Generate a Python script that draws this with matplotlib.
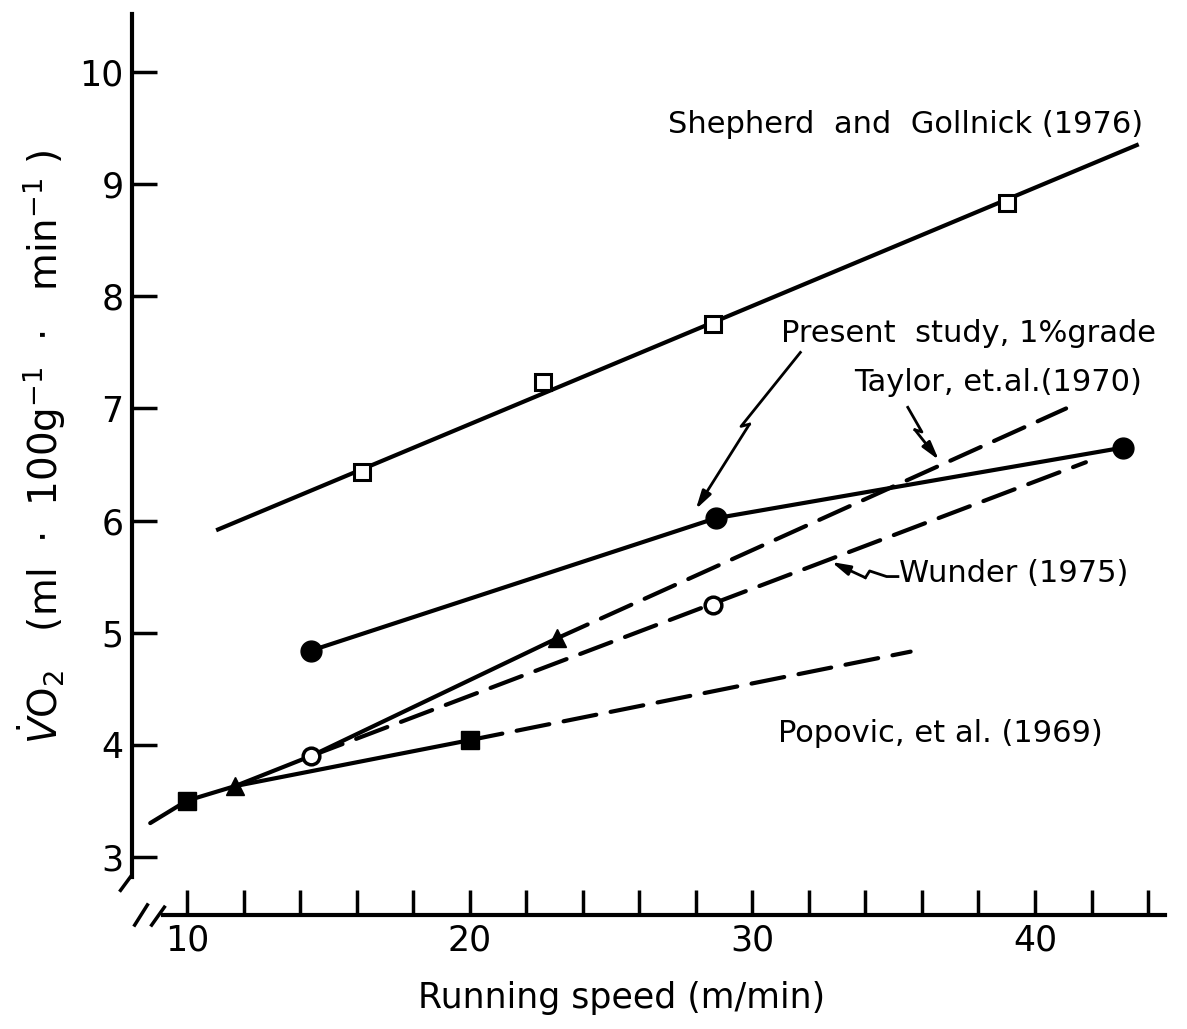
import matplotlib
matplotlib.use("Agg")
import matplotlib.pyplot as plt

# data (running speed m/min, VO2 ml/100g/min)
shep_x = [16.2, 22.6, 28.6, 39.0]
shep_y = [6.43, 7.24, 7.75, 8.83]
shep_line_x = [11.1, 43.6]
shep_line_y = [5.92, 9.35]

present_x = [14.4, 28.7, 43.1]
present_y = [4.84, 6.02, 6.65]

taylor_x = [11.7, 23.1]
taylor_y = [3.63, 4.95]
taylor_solid_x = [8.7, 10.0, 11.7, 14.4, 23.1]
taylor_solid_y = [3.30, 3.50, 3.63, 3.90, 4.95]
taylor_dash_x = [23.1, 41.1]
taylor_dash_y = [4.95, 7.00]

wunder_x = [14.4, 28.6]
wunder_y = [3.90, 5.25]
wunder_dash_x = [14.4, 41.8]
wunder_dash_y = [3.90, 6.52]

popovic_x = [10.0, 20.0]
popovic_y = [3.50, 4.04]
popovic_solid_x = [11.7, 20.0]
popovic_solid_y = [3.63, 4.04]
popovic_dash_x = [20.0, 35.6]
popovic_dash_y = [4.04, 4.83]

y_ticks = [3, 4, 5, 6, 7, 8, 9, 10]
x_major = [10, 20, 30, 40]
x_minor = list(range(10, 45, 2))

# zigzag pointers (data coords)
present_arrow = [(31.7, 7.50), (29.6, 6.84), (29.9, 6.86), (28.0, 6.10)]
taylor_arrow = [(35.5, 7.01), (36.0, 6.79), (35.75, 6.81), (36.6, 6.54)]
wunder_arrow = [(35.15, 5.50), (34.75, 5.50), (34.15, 5.55), (34.0, 5.49), (32.8, 5.63)]

plt.rcParams['font.family'] = 'DejaVu Sans'
fig = plt.figure(figsize=(11.87, 10.29), dpi=100)
ax = fig.add_axes([0.1112, 0.1108, 0.8703, 0.8756])
ax.set_xlim(8.055, 44.6)
ax.set_ylim(2.48, 10.52)

for s in ['top', 'right']:
    ax.spines[s].set_visible(False)
ax.spines['left'].set_bounds(2.82, 10.52)
ax.spines['bottom'].set_bounds(9.15, 44.6)
for s in ['left', 'bottom']:
    ax.spines[s].set_linewidth(3)

ax.set_yticks(y_ticks)
ax.set_yticklabels([str(v) for v in y_ticks])
ax.set_xticks(x_major)
ax.set_xticklabels([str(v) for v in x_major])
ax.set_xticks(x_minor, minor=True)
ax.tick_params(which='both', direction='in', length=18, width=2.5, labelsize=25)
ax.tick_params(axis='y', pad=6)
ax.tick_params(axis='x', pad=6)

lw = 3.0
dash = (0, (8, 3.5))
k = 'black'

# Shepherd and Gollnick
ax.plot(shep_line_x, shep_line_y, color=k, lw=lw)
ax.plot(shep_x, shep_y, 's', ms=12, mfc='white', mec=k, mew=2.2)

# Present study
ax.plot(present_x, present_y, '-o', color=k, lw=lw, ms=15)

# Taylor
ax.plot(taylor_solid_x, taylor_solid_y, color=k, lw=lw, solid_capstyle='round')
ax.plot(taylor_dash_x, taylor_dash_y, color=k, lw=lw, ls=dash, dash_capstyle='round')
ax.plot(taylor_x, taylor_y, '^', color=k, ms=13)

# Wunder
ax.plot(wunder_dash_x, wunder_dash_y, color=k, lw=lw, ls=dash, dash_capstyle='round')
ax.plot(wunder_x, wunder_y, 'o', ms=12, mfc='white', mec=k, mew=2.5)

# Popovic
ax.plot(popovic_solid_x, popovic_solid_y, color=k, lw=lw)
ax.plot(popovic_dash_x, popovic_dash_y, color=k, lw=lw, ls=dash, dash_capstyle='round')
ax.plot(popovic_x, popovic_y, 's', color=k, ms=13)

# labels
fs = 22
ax.text(27.0, 9.53, 'Shepherd  and  Gollnick (1976)', fontsize=fs, va='center')
ax.text(31.0, 7.67, 'Present  study, 1%grade', fontsize=fs, va='center')
ax.text(33.6, 7.23, 'Taylor, et.al.(1970)', fontsize=fs, va='center')
ax.text(35.2, 5.53, 'Wunder (1975)', fontsize=fs, va='center')
ax.text(30.9, 4.10, 'Popovic, et al. (1969)', fontsize=fs, va='center')

for pts in [present_arrow, taylor_arrow, wunder_arrow]:
    xs = [p[0] for p in pts[:-1]]
    ys = [p[1] for p in pts[:-1]]
    ax.plot(xs, ys, color=k, lw=2)
    ax.annotate('', xy=pts[-1], xytext=pts[-2],
                arrowprops=dict(arrowstyle='-|>,head_length=1.1,head_width=0.3',
                                color=k, lw=2, shrinkA=0, shrinkB=0))

# axis break marks
brk = [((7.65, 2.70), (8.0, 2.82)), ((8.15, 2.39), (8.6, 2.57)), ((8.75, 2.39), (9.2, 2.55))]
for (x0, y0), (x1, y1) in brk:
    ax.plot([x0, x1], [y0, y1], color=k, lw=2.5, clip_on=False)

ax.set_xlabel('Running speed (m/min)', fontsize=25)
ax.xaxis.set_label_coords(0.474, -0.073)
ax.set_ylabel(r'$\dot{V}$O$_2$   (ml  $\cdot$  100g$^{-1}$  $\cdot$   min$^{-1}$ )', fontsize=28)
ax.yaxis.set_label_coords(-0.062, 0.519)

fig.savefig('out.png', dpi=100)
